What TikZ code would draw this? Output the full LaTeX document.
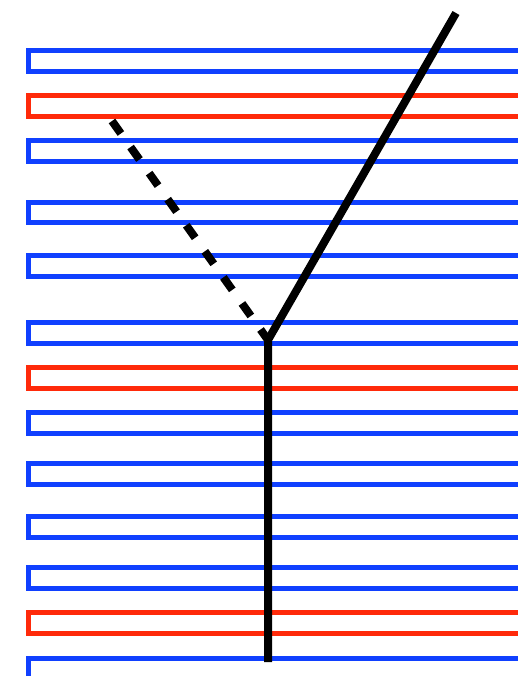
\documentclass[tikz,border=0pt]{standalone}
\definecolor{hpblue}{RGB}{16,64,255}
\definecolor{hpred}{RGB}{255,42,10}
\tikzset{
  hairpin/.style={line width=3.75pt},
  crack/.style={line width=6pt,black},
}
\begin{document}
\begin{tikzpicture}[x=0.75pt,y=-0.75pt]
\useasboundingbox (0,0) rectangle (518,676);
% stacked hairpins, open to the right
\draw[hairpin,hpblue] (522,50) -- (28,50) -- (28,71) -- (522,71);
\draw[hairpin,hpred]  (522,95) -- (28,95) -- (28,116) -- (522,116);
\draw[hairpin,hpblue] (522,140) -- (28,140) -- (28,161) -- (522,161);
\draw[hairpin,hpblue] (522,202) -- (28,202) -- (28,222) -- (522,222);
\draw[hairpin,hpblue] (522,255) -- (28,255) -- (28,276) -- (522,276);
\draw[hairpin,hpblue] (522,322) -- (28,322) -- (28,343) -- (522,343);
\draw[hairpin,hpred]  (522,367) -- (28,367) -- (28,388) -- (522,388);
\draw[hairpin,hpblue] (522,412) -- (28,412) -- (28,433) -- (522,433);
\draw[hairpin,hpblue] (522,463) -- (28,463) -- (28,484) -- (522,484);
\draw[hairpin,hpblue] (522,516) -- (28,516) -- (28,537) -- (522,537);
\draw[hairpin,hpblue] (522,567) -- (28,567) -- (28,588) -- (522,588);
\draw[hairpin,hpred]  (522,612) -- (28,612) -- (28,633) -- (522,633);
\draw[hairpin,hpblue] (522,658) -- (28,658) -- (28,679) -- (522,679);

% branch point and ends
\coordinate (fork) at (268,340);
\coordinate (tip) at (456,13);
\coordinate (stem) at (268,662);
\coordinate (ghost) at (112,121);

\draw[crack,miter limit=4] (tip) -- (fork) -- (stem);
\draw[crack,dash pattern=on 11.5pt off 12.5pt] (ghost) -- (fork);
\end{tikzpicture}
\end{document}
